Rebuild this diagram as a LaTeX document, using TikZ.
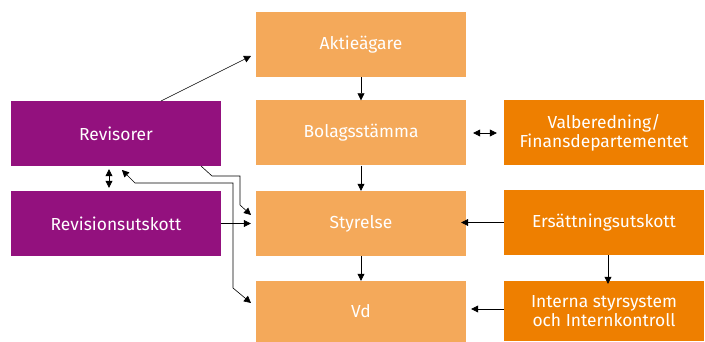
\documentclass[tikz,border=0pt]{standalone}
\usepackage{fontspec}
\setmainfont{Fira Sans}
\usepackage{xcolor}
\usetikzlibrary{arrows.meta}
\definecolor{ljusorange}{HTML}{F4A95A}
\definecolor{morkorange}{HTML}{EE7F00}
\definecolor{lila}{HTML}{93117E}

\begin{document}
\begin{tikzpicture}[x=1pt, y=-1pt,
    box/.style={minimum width=210pt, minimum height=65pt, inner sep=0pt,
        text=white, font=\fontsize{17.4}{19.5}\selectfont, align=center},
    mid/.style={box, fill=ljusorange},
    revbox/.style={box, fill=lila},
    sidebox/.style={box, fill=morkorange, minimum width=200pt},
    pil/.style={-{Triangle[length=7pt,width=7pt]}, semithick},
    dubbelpil/.style={{Triangle[length=7pt,width=7pt]}-{Triangle[length=7pt,width=7pt]}, semithick}]
    \useasboundingbox (0,0) rectangle (705,342);

    \node[mid] (aktie) at (361, 44.5) {Aktieägare};
    \node[mid] (bolag) at (361, 133) {Bolagsstämma};
    \node[mid] (styr) at (361, 223.5) {Styrelse};
    \node[mid, minimum height=61pt] (vd) at (361, 311.5) {Vd};

    \node[revbox] (revisorer) at (116, 133.5) {Revisorer};
    \node[revbox] (revutskott) at (116, 223.5) {Revisionsutskott};

    \node[sidebox] (valb) at (604, 133) {Valberedning/\\Finansdepartementet};
    \node[sidebox] (ersatt) at (604, 222.5) {Ersättningsutskott};
    \node[sidebox, minimum height=60pt] (interna) at (604, 311) {Interna styrsystem\\och Internkontroll};

    \coordinate (r1) at (161, 101);
    \coordinate (a1) at (251, 56);
    \coordinate (r2) at (201, 166);
    \coordinate (k1) at (212, 176);
    \coordinate (k2) at (240, 176);
    \coordinate (k3) at (240, 205);
    \coordinate (s1) at (251, 215);
    \coordinate (r3) at (122, 170);
    \coordinate (k4) at (135, 183);
    \coordinate (k5) at (233, 183);
    \coordinate (k6) at (233, 288);
    \coordinate (v1) at (251, 303);

    \draw[pil] (r1) -- (a1);
    \draw[pil] (aktie) -- (bolag);
    \draw[pil] (bolag) -- (styr);
    \draw[pil] (styr) -- (vd);
    \draw[dubbelpil] ([xshift=7pt]bolag.east) -- ([xshift=-7pt]valb.west);
    \draw[dubbelpil] ([xshift=-7pt, yshift=-3pt]revisorer.south) -- ([xshift=-7pt, yshift=3pt]revutskott.north);
    \draw[pil] (revutskott.east) -- ([xshift=-5pt]styr.west |- revutskott.east);
    \draw[pil] (ersatt.west) -- ([xshift=-5pt]styr.east |- ersatt.west);
    \draw[pil] ([xshift=4pt]ersatt.south) -- ([xshift=4pt, yshift=-3pt]interna.north);
    \draw[pil] ([yshift=2pt]interna.west) -- ([xshift=5pt, yshift=2pt]vd.east |- interna.west);
    \draw[pil] (r2) -- (k1) -- (k2) -- (k3) -- (s1);
    \draw[dubbelpil] (r3) -- (k4) -- (k5) -- (k6) -- (v1);
\end{tikzpicture}
\end{document}
